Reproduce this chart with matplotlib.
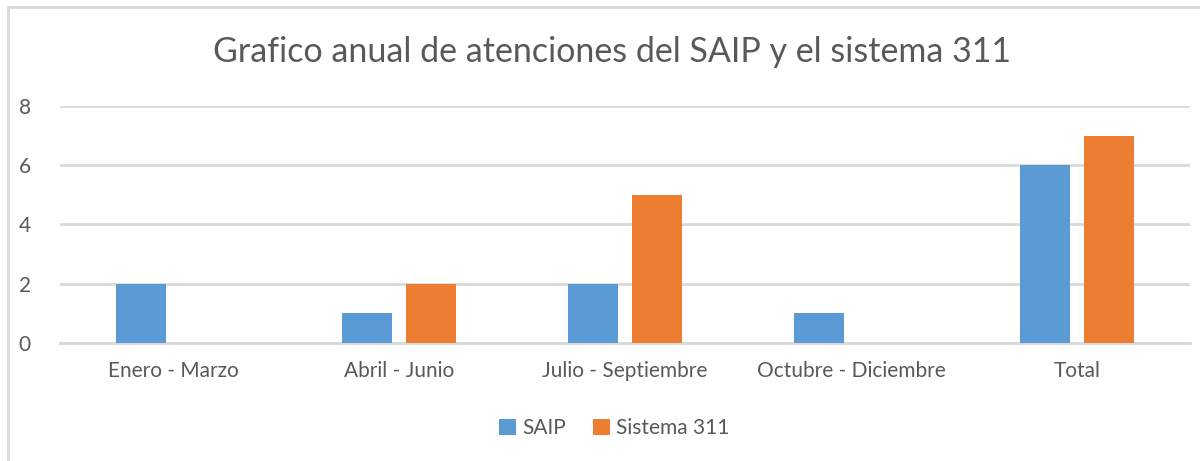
import numpy as np
import matplotlib
matplotlib.use("Agg")
import matplotlib.pyplot as plt
from matplotlib.patches import Rectangle

categories = ["Enero - Marzo", "Abril - Junio", "Julio - Septiembre", "Octubre - Diciembre", "Total"]
saip = [2, 1, 2, 1, 6]
sistema311 = [0, 2, 5, 0, 7]

plt.rcParams['font.family'] = ['Lato', 'DejaVu Sans']
txt = "#595959"
grid = "#D9D9D9"

fig = plt.figure(figsize=(12, 4.61), dpi=100)
ax = fig.add_axes([0.05, 0.2566, 0.9417, 0.5134])

x = np.arange(len(categories))
w = 0.221
off = 0.1416
ax.bar(x - off, saip, w, color="#5B9BD5", label="SAIP", zorder=3)
ax.bar(x + off, sistema311, w, color="#ED7D31", label="Sistema 311", zorder=3)

ax.set_xlim(-0.5, len(categories) - 0.5)
ax.set_ylim(0, 8)
ax.set_yticks([0, 2, 4, 6, 8])
ax.yaxis.grid(True, color=grid, linewidth=2, zorder=0)
ax.set_axisbelow(True)
for s in ["top", "right", "left"]:
    ax.spines[s].set_visible(False)
ax.spines["bottom"].set_color(grid)
ax.spines["bottom"].set_linewidth(2)
ax.set_xticks(x)
ax.set_xticklabels(categories)
ax.tick_params(axis="both", length=0, labelsize=15, labelcolor=txt)
ax.tick_params(axis="x", pad=13)
ax.tick_params(axis="y", pad=21)

fig.text(0.51, 0.888, "Grafico anual de atenciones del SAIP y el sistema 311",
         ha="center", va="center", fontsize=24.5, color=txt)

leg = fig.legend(loc="center", bbox_to_anchor=(0.512, 0.072), ncol=2, frameon=False,
                 fontsize=15, handlelength=0.8, handleheight=0.8, handletextpad=0.3,
                 columnspacing=1.3)
for t in leg.get_texts():
    t.set_color(txt)

fig.patches.append(Rectangle((0.0065, -0.1), 1.2, 1.085, transform=fig.transFigure,
                             fill=False, edgecolor=grid, linewidth=2))

fig.savefig("out.png", dpi=100)
